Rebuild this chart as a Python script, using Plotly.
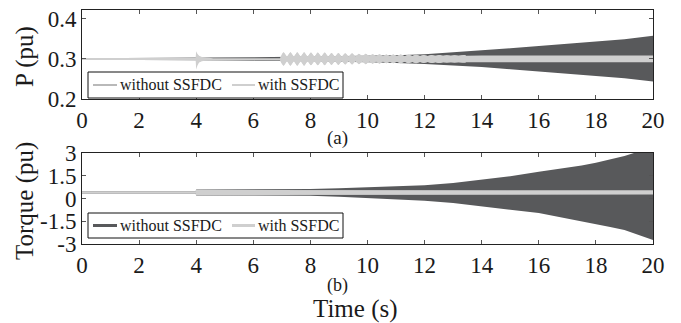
import plotly.graph_objects as go

W, H = 681, 323

# ---- axis ticks -------------------------------------------------------
X_TICKS = [0, 2, 4, 6, 8, 10, 12, 14, 16, 18, 20]
P_TICKS = [0.2, 0.3, 0.4]
P_TICK_TEXT = ["0.2", "0.3", "0.4"]
T_TICKS = [-3, -1.5, 0, 1.5, 3]
T_TICK_TEXT = ["-3", "-1.5", "0", "1.5", "3"]

# ---- (a) active power: oscillation envelopes (upper / lower bound) ----
P_WO_T = [0, 4, 6, 8, 10, 11, 12, 13, 14, 15, 16, 17, 18, 19, 20]
P_WO_HI = [0.302, 0.303, 0.304, 0.306, 0.308, 0.3095, 0.312, 0.316, 0.3215,
           0.3265, 0.332, 0.337, 0.3425, 0.349, 0.358]
P_WO_LO = [0.298, 0.297, 0.296, 0.294, 0.292, 0.290, 0.2875, 0.284, 0.280,
           0.2745, 0.269, 0.2635, 0.258, 0.252, 0.244]

P_W_T = [0.00, 3.98, 4.00, 4.04, 4.10, 4.20, 4.35, 4.60, 5.00, 6.00, 6.94,
         7.06, 7.18, 7.30, 7.42, 7.54, 7.66, 7.78, 7.90, 8.02, 8.14,
         8.26, 8.38, 8.50, 8.62, 8.74, 8.86, 8.98, 9.10, 9.22, 9.34,
         9.46, 9.58, 9.70, 9.82, 9.94, 10.06, 10.18, 10.30, 10.42, 10.54,
         10.66, 10.78, 10.90, 11.03, 11.16, 11.30, 11.43, 11.57, 11.70, 11.84,
         11.97, 12.11, 12.24, 12.38, 12.51, 12.65, 12.78, 12.92, 13.05, 13.19,
         13.32, 13.45, 14.00, 17.00, 20.00]
P_W_HI = [0.3025, 0.3025, 0.3195, 0.3130, 0.3080, 0.3050, 0.3035, 0.3020, 0.3015, 0.3015, 0.3020,
          0.317, 0.306, 0.317, 0.306, 0.317, 0.306, 0.317, 0.306, 0.316, 0.306,
          0.316, 0.306, 0.316, 0.306, 0.315, 0.306, 0.315, 0.306, 0.314, 0.306,
          0.314, 0.306, 0.313, 0.3065, 0.313, 0.3065, 0.312, 0.3065, 0.312, 0.3065,
          0.311, 0.307, 0.311, 0.307, 0.311, 0.307, 0.3105, 0.3075, 0.3105, 0.3075,
          0.310, 0.3075, 0.310, 0.308, 0.310, 0.308, 0.3095, 0.308, 0.3095, 0.308,
          0.3095, 0.308, 0.3085, 0.3085, 0.3085]
P_W_LO = [0.2975, 0.2975, 0.2735, 0.2830, 0.2910, 0.2940, 0.2960, 0.2965, 0.2965, 0.2965, 0.2960,
          0.283, 0.294, 0.283, 0.294, 0.283, 0.294, 0.283, 0.294, 0.284, 0.294,
          0.284, 0.294, 0.284, 0.294, 0.285, 0.294, 0.285, 0.294, 0.286, 0.294,
          0.286, 0.294, 0.287, 0.2935, 0.287, 0.2935, 0.288, 0.2935, 0.288, 0.2935,
          0.289, 0.293, 0.289, 0.293, 0.289, 0.293, 0.2895, 0.2925, 0.2895, 0.2925,
          0.290, 0.2925, 0.290, 0.292, 0.290, 0.292, 0.2905, 0.292, 0.2905, 0.292,
          0.2905, 0.292, 0.2915, 0.2915, 0.2915]
# the beating section of the with-SSFDC trace (rounded lobes)
P_BEAT_SPAN = (6.94, 13.45)

# ---- (b) shaft torque: oscillation envelopes --------------------------
T_WO_T = [0, 3.98, 4.0, 6, 7, 8, 9, 10, 11, 12, 13, 14, 15, 16, 16.5, 17, 17.5,
          18, 18.5, 19, 19.5, 20]
T_WO_HI = [0.47, 0.47, 0.60, 0.60, 0.60, 0.62, 0.68, 0.74, 0.80, 0.88, 1.03, 1.25,
           1.47, 1.76, 1.89, 2.03, 2.18, 2.36, 2.56, 2.80, 3.10, 3.50]
T_WO_LO = [0.33, 0.33, 0.20, 0.20, 0.20, 0.18, 0.12, 0.04, -0.05, -0.15, -0.30, -0.52,
           -0.74, -0.96, -1.12, -1.30, -1.49, -1.69, -1.88, -2.07, -2.40, -2.73]

T_W_T = [0, 3.98, 4.0, 6, 8, 10, 12, 14, 16, 18, 20]
T_W_HI = [0.47, 0.47, 0.57, 0.57, 0.56, 0.55, 0.54, 0.54, 0.54, 0.54, 0.54]
T_W_LO = [0.33, 0.33, 0.22, 0.22, 0.24, 0.25, 0.25, 0.26, 0.26, 0.26, 0.26]

SERIES = ["without SSFDC", "with SSFDC"]
DARK = "#58595b"
LIGHT = "#cfcfcf"
FONT = "Liberation Serif"
INK = "#1a1a1a"


def px(x):
    return x / W


def py(y):
    return 1 - y / H


def band(t, hi, lo, color, xa, ya, name, smooth=0):
    line = dict(width=0, color=color)
    if smooth:
        line.update(shape="spline", smoothing=smooth)
    return go.Scatter(
        x=list(t) + list(t)[::-1],
        y=list(hi) + list(lo)[::-1],
        mode="lines", fill="toself", fillcolor=color, line=line,
        xaxis=xa, yaxis=ya, name=name,
        showlegend=False, hoverinfo="skip",
    )


beat = [i for i, t in enumerate(P_W_T) if P_BEAT_SPAN[0] <= t <= P_BEAT_SPAN[1]]

fig = go.Figure()
fig.add_trace(band(P_WO_T, P_WO_HI, P_WO_LO, DARK, "x", "y", SERIES[0]))
fig.add_trace(band(P_W_T, P_W_HI, P_W_LO, LIGHT, "x", "y", SERIES[1]))
fig.add_trace(band([P_W_T[i] for i in beat], [P_W_HI[i] for i in beat],
                   [P_W_LO[i] for i in beat], LIGHT, "x", "y", SERIES[1], 1.0))
fig.add_trace(band(T_WO_T, T_WO_HI, T_WO_LO, DARK, "x2", "y2", SERIES[0]))
fig.add_trace(band(T_W_T, T_W_HI, T_W_LO, LIGHT, "x2", "y2", SERIES[1]))

axis_common = dict(
    showline=True, linecolor="#222", linewidth=1, mirror="ticks",
    ticks="inside", ticklen=4, tickcolor="#555", tickwidth=1,
    showgrid=False, zeroline=False, automargin=False,
    tickfont=dict(family=FONT, size=23, color=INK),
)

XD = [px(82), px(653)]
fig.update_layout(
    template="none",
    width=W, height=H,
    margin=dict(l=0, r=0, t=0, b=0, pad=0),
    paper_bgcolor="white", plot_bgcolor="white",
    showlegend=False,
    xaxis=dict(domain=XD, range=[0, 20], tickvals=X_TICKS, anchor="y", **axis_common),
    yaxis=dict(domain=[py(99), py(9.5)], range=[0.2, 0.4235], tickvals=P_TICKS,
               ticktext=P_TICK_TEXT, anchor="x", **axis_common),
    xaxis2=dict(domain=XD, range=[0, 20], tickvals=X_TICKS, anchor="y2", **axis_common),
    yaxis2=dict(domain=[py(244), py(153)], range=[-3, 3], tickvals=T_TICKS,
                ticktext=T_TICK_TEXT, anchor="x2", **axis_common),
)

# ---- legend boxes (drawn in paper coordinates) -------------------------
shapes = []
annotations = []


def legend_box(y0, y1, w_line, w_line2, c_line):
    yc = (y0 + y1) / 2
    shapes.append(dict(type="rect", xref="paper", yref="paper",
                       x0=px(88), x1=px(343), y0=py(y1), y1=py(y0),
                       line=dict(color="#111", width=1), fillcolor="white",
                       layer="above"))
    shapes.append(dict(type="line", xref="paper", yref="paper",
                       x0=px(93), x1=px(117), y0=py(yc), y1=py(yc),
                       line=dict(color=c_line, width=w_line), layer="above"))
    shapes.append(dict(type="line", xref="paper", yref="paper",
                       x0=px(232), x1=px(255), y0=py(yc), y1=py(yc),
                       line=dict(color=LIGHT, width=w_line2), layer="above"))
    for x0, label in ((119, SERIES[0]), (257, SERIES[1])):
        annotations.append(dict(x=px(x0), y=py(yc), xref="paper", yref="paper",
                                text=label, showarrow=False, xanchor="left",
                                yanchor="middle", borderpad=0,
                                font=dict(family=FONT, size=16, color=INK)))


legend_box(72, 98, 1.2, 2, "#8a8a8a")
legend_box(213, 238, 3, 3, DARK)


def label(x, y, text, size, angle=0):
    annotations.append(dict(x=px(x), y=py(y), xref="paper", yref="paper",
                            text=text, showarrow=False, textangle=angle,
                            xanchor="center", yanchor="middle", borderpad=0,
                            font=dict(family=FONT, size=size, color=INK)))


label(25, 57, "P (pu)", 25, -90)
label(25, 201, "Torque (pu)", 25, -90)
label(337, 138, "(a)", 19)
label(337, 285, "(b)", 18)
label(355, 309, "Time (s)", 25)

fig.update_layout(shapes=shapes, annotations=annotations)
fig.write_html("out.html")
